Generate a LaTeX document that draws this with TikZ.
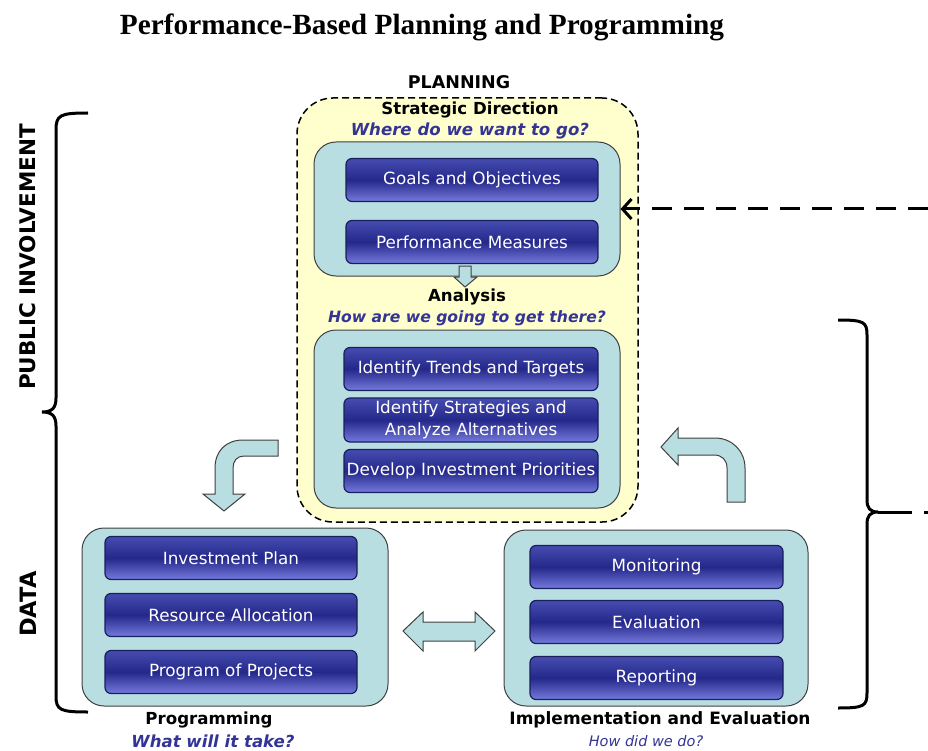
\documentclass[tikz,border=0pt]{standalone}
\usepackage{fontspec}
\setmainfont{DejaVu Sans}
\newfontfamily\headfont{Liberation Serif}
\usetikzlibrary{arrows.meta}
\definecolor{panelteal}{RGB}{184,222,226}
\definecolor{planyellow}{RGB}{255,255,206}
\definecolor{askblue}{RGB}{52,52,150}
\definecolor{btntop}{RGB}{70,76,176}
\definecolor{btnmid}{RGB}{36,40,138}
\definecolor{btnbot}{RGB}{116,122,220}
\definecolor{btnline}{RGB}{26,30,92}
\tikzset{
	button/.style={draw=btnline, line width=1.2pt, rounded corners=6pt,
		top color=btntop, bottom color=btnbot, middle color=btnmid,
		minimum width=252pt, minimum height=43pt, inner sep=0pt,
		text=white, align=center, font=\fontsize{16.8}{22}\selectfont},
	panel/.style={draw=black!75, line width=1pt, fill=panelteal, rounded corners=22pt, inner sep=0pt},
	heading/.style={font=\bfseries\fontsize{16.6}{19}\selectfont},
	question/.style={text=askblue, font=\bfseries\itshape\fontsize{16.6}{19}\selectfont},
	blockarrow/.style={draw=black!75, line width=1pt, fill=panelteal},
	bracket/.style={line width=3pt}
}
\begin{document}
\begin{tikzpicture}[x=1pt, y=-1pt]
	\useasboundingbox (0,0) rectangle (928,751);
	\node[font=\headfont\bfseries\fontsize{29.3}{32}\selectfont] (title) at (422,27) {Performance-Based Planning and Programming};
	% planning block
	\node[draw, dash pattern=on 7pt off 4pt, line width=1.5pt, fill=planyellow, rounded corners=36pt,
		minimum width=341pt, minimum height=424pt] (planning) at (467.5,310) {};
	\node[heading, font=\bfseries\fontsize{17.5}{19}\selectfont] (planlabel) at (459,82) {PLANNING};
	\node[heading] (strathead) at (470,110) {Strategic Direction};
	\node[question] (stratask) at (470,131) {Where do we want to go?};
	\node[panel, minimum width=306pt, minimum height=134pt] (strategy) at (467,209) {};
	\node[button] (goals) at (472,180) {Goals and Objectives};
	\node[button] (measures) at (472,242) {Performance Measures};
	\draw[blockarrow] (459,266) -- (471,266) -- (471,277) -- (477,277) -- (465,287) -- (454,277) -- (459,277) -- cycle;
	\node[heading] (anahead) at (467,297) {Analysis};
	\node[question, font=\bfseries\itshape\fontsize{15.6}{19}\selectfont] (anaask) at (467,318) {How are we going to get there?};
	\node[panel, minimum width=306pt, minimum height=178pt] (analysis) at (467,419) {};
	\node[button, minimum width=254pt] (trends) at (471,369) {Identify Trends and Targets};
	\node[button, minimum width=254pt, minimum height=44pt] (strategies) at (471,420) {Identify Strategies and\\Analyze Alternatives};
	\node[button, minimum width=254pt] (priorities) at (471,471) {Develop Investment Priorities};
	% programming block
	\node[panel, minimum width=306pt, minimum height=178pt] (programming) at (235,617) {};
	\node[button] (investplan) at (231,558) {Investment Plan};
	\node[button] (allocation) at (231,615) {Resource Allocation};
	\node[button] (projects) at (231,672) {Program of Projects};
	\node[heading] (proghead) at (209,720) {Programming};
	\node[question] (progask) at (213,741) {What will it take?};
	% implementation block
	\node[panel, minimum width=304pt, minimum height=176pt] (implementation) at (656,618) {};
	\node[button, minimum width=253pt] (monitoring) at (656.5,567) {Monitoring};
	\node[button, minimum width=253pt] (evaluation) at (656.5,622) {Evaluation};
	\node[button, minimum width=253pt] (reporting) at (656.5,678) {Reporting};
	\node[heading, font=\bfseries\fontsize{17}{19}\selectfont] (implhead) at (660,720) {Implementation and Evaluation};
	\node[text=askblue, font=\itshape\fontsize{14.5}{18}\selectfont] (implask) at (646,741) {How did we do?};
	% cycle arrows
	\draw[blockarrow] (278,440) -- (243,440) .. controls (226,440) and (215,451) .. (215,468) -- (215,494)
		-- (203,494) -- (224,511) -- (245,494) -- (233,494) -- (233,468) .. controls (233,461) and (237,456) .. (244,456)
		-- (278,456) -- cycle;
	\draw[blockarrow] (727,502) -- (727,468) .. controls (727,460) and (722,455) .. (714,455) -- (678,455) -- (678,465)
		-- (661,447) -- (678,428) -- (678,438) -- (715,438) .. controls (732,438) and (745,451) .. (745,468) -- (745,502) -- cycle;
	\draw[blockarrow] (403,631) -- (423,612) -- (423,622) -- (475,622) -- (475,612) -- (495,631) -- (475,651)
		-- (475,641) -- (423,641) -- (423,651) -- cycle;
	% side brackets
	\node[rotate=90, font=\bfseries\fontsize{21.5}{24}\selectfont] (public) at (28,257) {PUBLIC INVOLVEMENT};
	\node[rotate=90, font=\bfseries\fontsize{22.5}{24}\selectfont] (data) at (28,604) {DATA};
	\draw[bracket] (88,113) .. controls (60,113) and (56,115) .. (56,130) -- (56,398) .. controls (56,408) and (52,412) .. (42,412)
		.. controls (52,412) and (56,416) .. (56,426) -- (56,696) .. controls (56,710) and (60,712) .. (88,712);
	\draw[bracket] (838,320) .. controls (864,320) and (867,322) .. (867,335) -- (867,500) .. controls (867,508) and (870,512) .. (878,512)
		.. controls (870,512) and (867,516) .. (867,524) -- (867,693) .. controls (867,706) and (864,708) .. (838,708);
	\coordinate (tail) at (912,512);
	\draw[bracket] (878,512) -- (tail);
	\draw[bracket] (924,512) -- (928,512);
	\coordinate (feedback) at (928,209);
	\draw[line width=3pt, dash pattern=on 20pt off 12pt, -{Straight Barb[length=9pt, width=20pt, line width=3pt]}] (feedback) -- (strategy.east);
\end{tikzpicture}
\end{document}
